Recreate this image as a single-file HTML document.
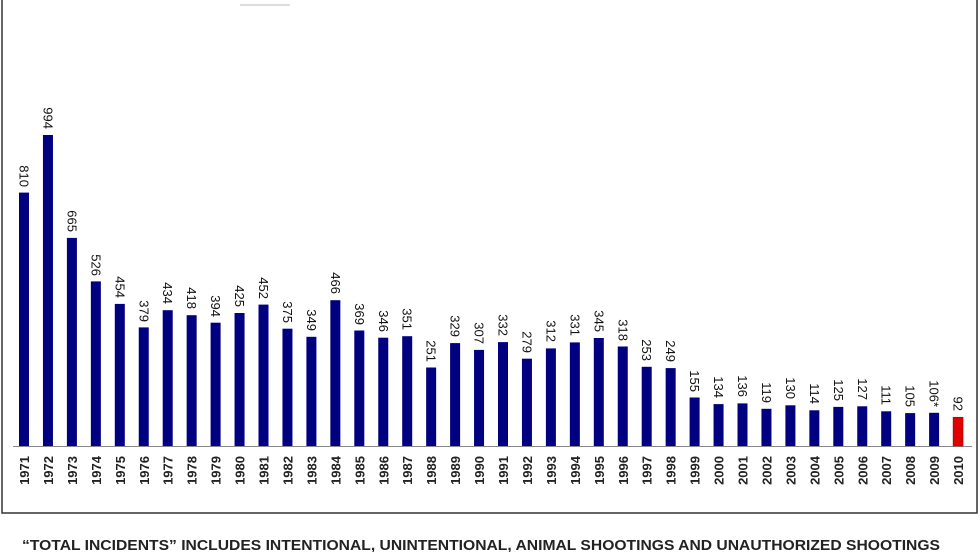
<!DOCTYPE html>
<html><head><meta charset="utf-8"><style>
html,body{margin:0;padding:0;background:#fff;}
svg{display:block;}
.v{font:13px "Liberation Sans",sans-serif;fill:#111;}
.y{font:bold 13px "Liberation Sans",sans-serif;fill:#222;}
</style></head><body>
<svg width="980" height="552" viewBox="0 0 980 552" xmlns="http://www.w3.org/2000/svg">
<rect x="2" y="-2" width="975" height="515" fill="none" stroke="#333" stroke-width="1.5"/>
<line x1="240" y1="5" x2="290" y2="5" stroke="#ddd" stroke-width="2"/>
<line x1="13" y1="446.5" x2="972" y2="446.5" stroke="#888" stroke-width="1"/>
<g fill="#000080">
<rect x="19" y="192.6" width="10" height="253.4"/>
<rect x="42.95" y="135" width="10" height="311"/>
<rect x="66.9" y="237.9" width="10" height="208.1"/>
<rect x="90.85" y="281.4" width="10" height="164.6"/>
<rect x="114.8" y="303.9" width="10" height="142.1"/>
<rect x="138.75" y="327.4" width="10" height="118.6"/>
<rect x="162.7" y="310.2" width="10" height="135.8"/>
<rect x="186.65" y="315.2" width="10" height="130.8"/>
<rect x="210.6" y="322.7" width="10" height="123.3"/>
<rect x="234.55" y="313" width="10" height="133"/>
<rect x="258.5" y="304.6" width="10" height="141.4"/>
<rect x="282.45" y="328.7" width="10" height="117.3"/>
<rect x="306.4" y="336.8" width="10" height="109.2"/>
<rect x="330.35" y="300.2" width="10" height="145.8"/>
<rect x="354.3" y="330.5" width="10" height="115.5"/>
<rect x="378.25" y="337.7" width="10" height="108.3"/>
<rect x="402.2" y="336.2" width="10" height="109.8"/>
<rect x="426.15" y="367.5" width="10" height="78.5"/>
<rect x="450.1" y="343.1" width="10" height="102.9"/>
<rect x="474.05" y="349.9" width="10" height="96.1"/>
<rect x="498" y="342.1" width="10" height="103.9"/>
<rect x="521.95" y="358.7" width="10" height="87.3"/>
<rect x="545.9" y="348.4" width="10" height="97.6"/>
<rect x="569.85" y="342.4" width="10" height="103.6"/>
<rect x="593.8" y="338" width="10" height="108"/>
<rect x="617.75" y="346.5" width="10" height="99.5"/>
<rect x="641.7" y="366.8" width="10" height="79.2"/>
<rect x="665.65" y="368.1" width="10" height="77.9"/>
<rect x="689.6" y="397.5" width="10" height="48.5"/>
<rect x="713.55" y="404.1" width="10" height="41.9"/>
<rect x="737.5" y="403.4" width="10" height="42.6"/>
<rect x="761.45" y="408.8" width="10" height="37.2"/>
<rect x="785.4" y="405.3" width="10" height="40.7"/>
<rect x="809.35" y="410.3" width="10" height="35.7"/>
<rect x="833.3" y="406.9" width="10" height="39.1"/>
<rect x="857.25" y="406.3" width="10" height="39.7"/>
<rect x="881.2" y="411.3" width="10" height="34.7"/>
<rect x="905.15" y="413.1" width="10" height="32.9"/>
<rect x="929.1" y="412.8" width="10" height="33.2"/>
</g>
<rect x="953.05" y="417.2" width="10" height="28.8" fill="#e00000" stroke="#800" stroke-width="0.5"/>
<g class="v" text-anchor="end">
<text transform="translate(19.5,187) rotate(90)">810</text>
<text transform="translate(43.45,129) rotate(90)">994</text>
<text transform="translate(67.4,232) rotate(90)">665</text>
<text transform="translate(91.35,276) rotate(90)">526</text>
<text transform="translate(115.3,298) rotate(90)">454</text>
<text transform="translate(139.25,322) rotate(90)">379</text>
<text transform="translate(163.2,304) rotate(90)">434</text>
<text transform="translate(187.15,309) rotate(90)">418</text>
<text transform="translate(211.1,317) rotate(90)">394</text>
<text transform="translate(235.05,307) rotate(90)">425</text>
<text transform="translate(259,299) rotate(90)">452</text>
<text transform="translate(282.95,323) rotate(90)">375</text>
<text transform="translate(306.9,331) rotate(90)">349</text>
<text transform="translate(330.85,294) rotate(90)">466</text>
<text transform="translate(354.8,325) rotate(90)">369</text>
<text transform="translate(378.75,332) rotate(90)">346</text>
<text transform="translate(402.7,330) rotate(90)">351</text>
<text transform="translate(426.65,362) rotate(90)">251</text>
<text transform="translate(450.6,337) rotate(90)">329</text>
<text transform="translate(474.55,344) rotate(90)">307</text>
<text transform="translate(498.5,336) rotate(90)">332</text>
<text transform="translate(522.45,353) rotate(90)">279</text>
<text transform="translate(546.4,342) rotate(90)">312</text>
<text transform="translate(570.35,336) rotate(90)">331</text>
<text transform="translate(594.3,332) rotate(90)">345</text>
<text transform="translate(618.25,341) rotate(90)">318</text>
<text transform="translate(642.2,361) rotate(90)">253</text>
<text transform="translate(666.15,362) rotate(90)">249</text>
<text transform="translate(690.1,392) rotate(90)">155</text>
<text transform="translate(714.05,398) rotate(90)">134</text>
<text transform="translate(738,397) rotate(90)">136</text>
<text transform="translate(761.95,403) rotate(90)">119</text>
<text transform="translate(785.9,399) rotate(90)">130</text>
<text transform="translate(809.85,404) rotate(90)">114</text>
<text transform="translate(833.8,401) rotate(90)">125</text>
<text transform="translate(857.75,400) rotate(90)">127</text>
<text transform="translate(881.7,405) rotate(90)">111</text>
<text transform="translate(905.65,407) rotate(90)">105</text>
<text transform="translate(929.6,407) rotate(90)">106*</text>
<text transform="translate(953.55,411) rotate(90)">92</text>
</g>
<g class="y" text-anchor="end">
<text transform="translate(29,456) rotate(-90)">1971</text>
<text transform="translate(52.95,456) rotate(-90)">1972</text>
<text transform="translate(76.9,456) rotate(-90)">1973</text>
<text transform="translate(100.85,456) rotate(-90)">1974</text>
<text transform="translate(124.8,456) rotate(-90)">1975</text>
<text transform="translate(148.75,456) rotate(-90)">1976</text>
<text transform="translate(172.7,456) rotate(-90)">1977</text>
<text transform="translate(196.65,456) rotate(-90)">1978</text>
<text transform="translate(220.6,456) rotate(-90)">1979</text>
<text transform="translate(244.55,456) rotate(-90)">1980</text>
<text transform="translate(268.5,456) rotate(-90)">1981</text>
<text transform="translate(292.45,456) rotate(-90)">1982</text>
<text transform="translate(316.4,456) rotate(-90)">1983</text>
<text transform="translate(340.35,456) rotate(-90)">1984</text>
<text transform="translate(364.3,456) rotate(-90)">1985</text>
<text transform="translate(388.25,456) rotate(-90)">1986</text>
<text transform="translate(412.2,456) rotate(-90)">1987</text>
<text transform="translate(436.15,456) rotate(-90)">1988</text>
<text transform="translate(460.1,456) rotate(-90)">1989</text>
<text transform="translate(484.05,456) rotate(-90)">1990</text>
<text transform="translate(508,456) rotate(-90)">1991</text>
<text transform="translate(531.95,456) rotate(-90)">1992</text>
<text transform="translate(555.9,456) rotate(-90)">1993</text>
<text transform="translate(579.85,456) rotate(-90)">1994</text>
<text transform="translate(603.8,456) rotate(-90)">1995</text>
<text transform="translate(627.75,456) rotate(-90)">1996</text>
<text transform="translate(651.7,456) rotate(-90)">1997</text>
<text transform="translate(675.65,456) rotate(-90)">1998</text>
<text transform="translate(699.6,456) rotate(-90)">1999</text>
<text transform="translate(723.55,456) rotate(-90)">2000</text>
<text transform="translate(747.5,456) rotate(-90)">2001</text>
<text transform="translate(771.45,456) rotate(-90)">2002</text>
<text transform="translate(795.4,456) rotate(-90)">2003</text>
<text transform="translate(819.35,456) rotate(-90)">2004</text>
<text transform="translate(843.3,456) rotate(-90)">2005</text>
<text transform="translate(867.25,456) rotate(-90)">2006</text>
<text transform="translate(891.2,456) rotate(-90)">2007</text>
<text transform="translate(915.15,456) rotate(-90)">2008</text>
<text transform="translate(939.1,456) rotate(-90)">2009</text>
<text transform="translate(963.05,456) rotate(-90)">2010</text>
</g>
<text x="22" y="550" font-family="Liberation Sans, sans-serif" font-weight="bold" font-size="14.5" fill="#222" textLength="918" lengthAdjust="spacingAndGlyphs">“TOTAL INCIDENTS” INCLUDES INTENTIONAL, UNINTENTIONAL, ANIMAL SHOOTINGS AND UNAUTHORIZED SHOOTINGS</text>
</svg>
</body></html>
